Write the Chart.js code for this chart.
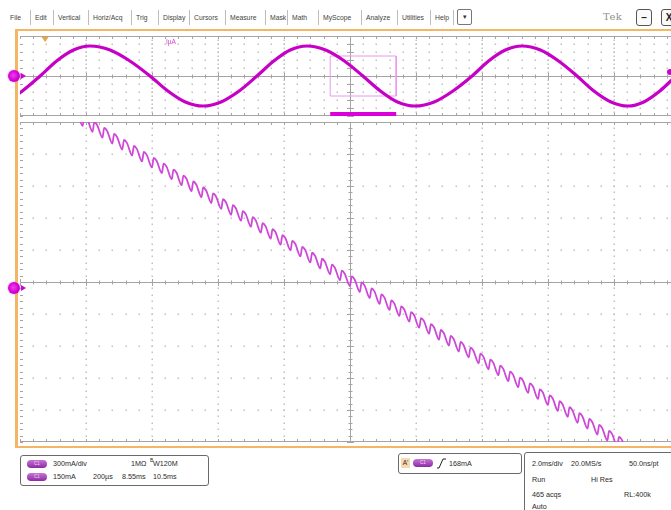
<!DOCTYPE html>
<html>
<head>
<meta charset="utf-8">
<script src="https://cdn.jsdelivr.net/npm/chart.js@4/dist/chart.umd.min.js"></script>
<style>
  html, body { margin: 0; padding: 0; width: 671px; height: 510px; overflow: hidden; background: #fff; }
  #scope { position: relative; width: 671px; height: 510px; overflow: hidden; font-family: "Liberation Sans", Arial, sans-serif; color: #2a2a2a; }
  .abs { position: absolute; }
  .mi { position: absolute; top: 13px; font-size: 6.8px; color: #444; line-height: 9px; white-space: nowrap; }
  .sep { position: absolute; top: 10px; width: 1px; height: 15px; background: #bdbdbd; }
  .drop { position: absolute; left: 457px; top: 9px; width: 15px; height: 16px; border: 1px solid #777; border-radius: 2px; box-sizing: border-box; text-align: center; font-size: 7px; line-height: 14px; color: #333; }
  .winbtn { position: absolute; top: 9px; width: 16px; height: 17px; border: 1px solid #555; border-radius: 3px; box-sizing: border-box; display: flex; align-items: center; justify-content: center; font-size: 10px; font-weight: bold; color: #222; background: #fafafa; }
  .orange { position: absolute; background: #f4b565; }
  canvas { position: absolute; }
  .marker { position: absolute; width: 12px; height: 12px; border-radius: 50%; background: radial-gradient(circle at 45% 45%, #f040f0 0%, #d000d0 55%, #b000b8 100%); box-shadow: 0 0 2px #f07af0; }
  .arrow { position: absolute; width: 0; height: 0; border-top: 3px solid transparent; border-bottom: 3px solid transparent; border-left: 5px solid #d000d0; }
  .box { position: absolute; border: 1px solid #6a6a6a; border-radius: 3px; background: #fff; box-sizing: border-box; font-size: 7.2px; }
  .box span { position: absolute; white-space: nowrap; }
  .pill { position: absolute; width: 20px; height: 8px; border-radius: 4px; background: linear-gradient(#c774d6, #8d2aa3); color: #f3d8f6; font-size: 4.5px; line-height: 8px; text-align: center; }
</style>
</head>
<body>
<div id="scope">
  <span class="mi" style="left:10px;">File</span>
  <div class="sep" style="left:30px;"></div><span class="mi" style="left:35px;">Edit</span>
  <div class="sep" style="left:53px;"></div><span class="mi" style="left:58px;">Vertical</span>
  <div class="sep" style="left:88px;"></div><span class="mi" style="left:93px;">Horiz/Acq</span>
  <div class="sep" style="left:131px;"></div><span class="mi" style="left:136px;">Trig</span>
  <div class="sep" style="left:158px;"></div><span class="mi" style="left:163px;">Display</span>
  <div class="sep" style="left:189px;"></div><span class="mi" style="left:194px;">Cursors</span>
  <div class="sep" style="left:225px;"></div><span class="mi" style="left:230px;">Measure</span>
  <div class="sep" style="left:265px;"></div><span class="mi" style="left:270px;">Mask</span>
  <div class="sep" style="left:287px;"></div><span class="mi" style="left:292px;">Math</span>
  <div class="sep" style="left:318px;"></div><span class="mi" style="left:323px;">MyScope</span>
  <div class="sep" style="left:361px;"></div><span class="mi" style="left:366px;">Analyze</span>
  <div class="sep" style="left:397px;"></div><span class="mi" style="left:402px;">Utilities</span>
  <div class="sep" style="left:430px;"></div><span class="mi" style="left:435px;">Help</span>
  <div class="sep" style="left:453px;"></div>
  <div class="drop">&#9662;</div>
  <div class="abs" style="left:603px;top:11px;font-size:10px;color:#8f8f8f;font-family:'DejaVu Serif',serif;letter-spacing:0.5px;">Tek</div>
  <div class="winbtn" style="left:636px;">&ndash;</div>
  <div class="winbtn" style="left:661px;">X</div>

  <canvas id="overview" width="664" height="84" style="left:18px;top:34px;width:664px;height:84px;"></canvas>
  <canvas id="zoomed" width="664" height="324" style="left:18px;top:120px;width:664px;height:324px;"></canvas>

  <div class="orange" style="left:15px;top:29px;width:660px;height:2px;"></div>
  <div class="orange" style="left:15px;top:29px;width:3px;height:419px;"></div>
  <div class="orange" style="left:15px;top:446px;width:660px;height:2px;"></div>

  <div class="abs" style="left:166px;top:38px;font-size:6.5px;color:#d040d0;">IµA</div>

  <div class="marker" style="left:8px;top:70px;"></div>
  <div class="arrow" style="left:21px;top:73px;"></div>
  <div class="marker" style="left:8px;top:282px;"></div>
  <div class="arrow" style="left:21px;top:285px;"></div>
  <div class="abs" style="left:667px;top:69px;width:6px;height:6px;border-radius:50%;background:#d000d0;"></div>

  <div class="box" style="left:20px;top:455px;width:189px;height:31px;">
    <div class="pill" style="left:6px;top:4px;">C1</div>
    <span style="left:32px;top:3px;">300mA/div</span>
    <span style="left:110px;top:3px;">1MΩ</span>
    <span style="left:129px;top:1px;font-size:5px;">B</span>
    <span style="left:132px;top:3px;">W120M</span>
    <div class="pill" style="left:6px;top:17px;">C1</div>
    <span style="left:32px;top:16px;">150mA</span>
    <span style="left:72px;top:16px;">200µs</span>
    <span style="left:101px;top:16px;">8.55ms</span>
    <span style="left:132px;top:16px;">10.5ms</span>
  </div>

  <div class="box" style="left:398px;top:453px;width:124px;height:21px;">
    <span style="left:2px;top:4px;width:9px;height:10px;background:#f6d9b0;font-size:6.5px;text-align:center;line-height:10px;">A'</span>
    <div class="pill" style="left:14px;top:5px;">C1</div>
    <svg class="abs" style="left:38px;top:4px;" width="9" height="11" viewBox="0 0 9 11"><polyline points="0,10 2,10 6,1 9,1" fill="none" stroke="#222" stroke-width="1"/></svg>
    <span style="left:50px;top:5px;">168mA</span>
  </div>

  <div class="box" style="left:524px;top:452px;width:160px;height:70px;">
    <span style="left:7px;top:6px;">2.0ms/div</span>
    <span style="left:46px;top:6px;">20.0MS/s</span>
    <span style="left:104px;top:6px;">50.0ns/pt</span>
    <span style="left:7px;top:22px;">Run</span>
    <span style="left:66px;top:22px;">Hi Res</span>
    <span style="left:7px;top:37px;">465 acqs</span>
    <span style="left:99px;top:37px;">RL:400k</span>
    <span style="left:7px;top:49px;">Auto</span>
  </div>
</div>

<script>
// Channel 1 over the full record: time in ms, current in mA
const sineTimeMs = [-1.00, -0.46, 0.07, 0.61, 1.11, 1.62, 2.12, 2.73, 3.33, 3.94, 4.48, 5.01, 5.55, 6.09,
  6.64, 7.18, 7.69, 8.19, 8.70, 9.26, 9.83, 10.39, 10.92, 11.44, 11.97, 12.55, 13.12, 13.70, 14.20, 14.71,
  15.21, 15.77, 16.32, 16.88, 17.39, 17.91, 18.42, 18.90, 19.39, 19.88, 20.40, 20.90];
const sineCurrentMa = [-1125, -974, -562, 0, 562, 974, 1125, 974, 562, 0, -562, -974,
  -1125, -974, -562, 0, 562, 974, 1125, 974, 562, 0, -562, -974,
  -1125, -974, -562, 0, 562, 974, 1125, 974, 562, 0, -562, -974,
  -1125, -974, -562, 0, 562, 974];

// Zoom window: switching ripple riding on the falling edge (time in µs from zoom centre, current in mA).
// Each tooth: low point, quick rise to the peak, a short shoulder, then the steep fall to the next low.
const toothStartUs = [-840, -810, -780, -750, -720, -690, -660, -630, -600, -570, -540, -510, -480, -450, -420,
  -390, -360, -330, -300, -270, -240, -210, -180, -150, -120, -90, -60, -30, 0, 30, 60, 90, 120, 150, 180, 210,
  240, 270, 300, 330, 360, 390, 420, 450, 480, 510, 540, 570, 600, 630, 660, 690, 720, 750, 780, 810, 840, 870];
const toothLowMa = [760, 732, 704, 677, 649, 621, 593, 565, 537, 510, 482, 454, 426, 398, 370, 343, 315, 287,
  259, 231, 203, 175, 148, 120, 92, 64, 36, 8, -19, -47, -75, -103, -131, -159, -186, -214, -242, -270, -298,
  -326, -353, -381, -409, -437, -465, -493, -520, -548, -576, -604, -632, -660, -687, -715, -743, -771, -799, -827];
const toothPeakUs = [-835, -805, -775, -745, -715, -685, -655, -625, -595, -565, -535, -505, -475, -445, -415,
  -385, -355, -325, -295, -265, -235, -205, -175, -145, -115, -85, -55, -25, 5, 35, 65, 95, 125, 155, 185, 215,
  245, 275, 305, 335, 365, 395, 425, 455, 485, 515, 545, 575, 605, 635, 665, 695, 725, 755, 785, 815, 845, 875];
const toothHighMa = [805, 777, 749, 722, 694, 666, 638, 610, 582, 555, 527, 499, 471, 443, 415, 388, 360, 332,
  304, 276, 248, 220, 193, 165, 137, 109, 81, 53, 26, -2, -30, -58, -86, -114, -141, -169, -197, -225, -253,
  -281, -308, -336, -364, -392, -420, -448, -475, -503, -531, -559, -587, -615, -642, -670, -698, -726, -754, -782];
const toothShoulderUs = [-826, -796, -766, -736, -706, -676, -646, -616, -586, -556, -526, -496, -466, -436, -406,
  -376, -346, -316, -286, -256, -226, -196, -166, -136, -106, -76, -46, -16, 14, 44, 74, 104, 134, 164, 194, 224,
  254, 284, 314, 344, 374, 404, 434, 464, 494, 524, 554, 584, 614, 644, 674, 704, 734, 764, 794, 824, 854, 884];
const toothShoulderMa = [791, 763, 735, 708, 680, 652, 624, 596, 568, 541, 513, 485, 457, 429, 401, 374, 346, 318,
  290, 262, 234, 206, 179, 151, 123, 95, 67, 39, 12, -16, -44, -72, -100, -128, -155, -183, -211, -239, -267,
  -295, -322, -350, -378, -406, -434, -462, -489, -517, -545, -573, -601, -629, -656, -684, -712, -740, -768, -796];

// Horizontal / vertical settings
const overviewSpanMs = [0, 20];          // 10 div x 2.0 ms
const overviewSpanMa = [-1500, 1500];    // 10 div x 300 mA
const zoomSpanUs = [-1000, 1000];        // 10 div x 200 µs
const zoomSpanMa = [-750, 750];          // 10 div x 150 mA
const zoomWindowMs = [9.4, 11.4];
const zoomBarMa = -1425;
const triggerTimeMs = 0.76;

const sinePoints = sineTimeMs.map((t, i) => ({ x: t, y: sineCurrentMa[i] }));
const ripplePoints = [];
toothStartUs.forEach((t, i) => {
  ripplePoints.push({ x: t, y: toothLowMa[i] });
  ripplePoints.push({ x: toothPeakUs[i], y: toothHighMa[i] });
  ripplePoints.push({ x: toothShoulderUs[i], y: toothShoulderMa[i] });
});
const zoomBoxPoints = [
  { x: zoomWindowMs[0], y: zoomSpanMa[1] }, { x: zoomWindowMs[1], y: zoomSpanMa[1] },
  { x: zoomWindowMs[1], y: zoomSpanMa[0] }, { x: zoomWindowMs[0], y: zoomSpanMa[0] },
  { x: zoomWindowMs[0], y: zoomSpanMa[1] }
];
const zoomBarPoints = [{ x: zoomWindowMs[0], y: zoomBarMa }, { x: zoomWindowMs[1], y: zoomBarMa }];

// Oscilloscope graticule: dotted divisions, centre cross with minor ticks, edge ticks
const graticule = {
  id: 'graticule',
  beforeDatasetsDraw(chart, args, o) {
    const { ctx, chartArea: a } = chart;
    const divW = (a.right - a.left) / 10, divH = (a.bottom - a.top) / 10;
    const minW = divW / 5, minH = divH / 5;
    const cx = Math.round(a.left + 5 * divW) + 0.5, cy = Math.round(a.top + 5 * divH) + 0.5;
    const stepY = o.vDotStep || minH;
    const tickStepY = o.vTickStep || minH;
    ctx.save();
    ctx.fillStyle = '#c2c2c2';
    for (let i = 1; i < 10; i++) {
      if (i === 5) continue;
      const x = Math.round(a.left + i * divW);
      for (let y = a.top + stepY; y < a.bottom - 1; y += stepY) ctx.fillRect(x - 0.5, Math.round(y) - 0.5, 1.5, 1.5);
      const y = Math.round(a.top + i * divH);
      for (let x2 = a.left + minW; x2 < a.right; x2 += minW) ctx.fillRect(Math.round(x2) - 0.5, y - 0.5, 1.5, 1.5);
    }
    ctx.strokeStyle = '#a4a4a4';
    ctx.lineWidth = 1;
    ctx.beginPath();
    ctx.moveTo(a.left, cy); ctx.lineTo(a.right, cy);
    ctx.moveTo(cx, a.top); ctx.lineTo(cx, a.bottom);
    ctx.moveTo(a.left, a.top + 0.5); ctx.lineTo(a.right, a.top + 0.5);
    ctx.moveTo(a.left, a.bottom - 0.5); ctx.lineTo(a.right, a.bottom - 0.5);
    // ticks along centre horizontal line and top/bottom edges
    for (let k = 0; k <= 50; k++) {
      const x = Math.round(a.left + k * minW) + 0.5;
      const len = k % 5 === 0 ? 3.5 : 2;
      ctx.moveTo(x, cy - len); ctx.lineTo(x, cy + len);
      ctx.moveTo(x, a.top); ctx.lineTo(x, a.top + 3);
      ctx.moveTo(x, a.bottom); ctx.lineTo(x, a.bottom - 3);
    }
    // ticks along centre vertical line and left edge
    for (let y = a.top; y <= a.bottom + 0.1; y += tickStepY) {
      const yy = Math.round(y) + 0.5;
      const major = Math.abs(((y - a.top) / divH) - Math.round((y - a.top) / divH)) < 0.01;
      const len = major ? 3.5 : 2;
      ctx.moveTo(cx - len, yy); ctx.lineTo(cx + len, yy);
      ctx.moveTo(a.left, yy); ctx.lineTo(a.left + 3, yy);
    }
    ctx.stroke();
    ctx.restore();
  },
  afterDatasetsDraw(chart, args, o) {
    if (o.triggerAt === undefined) return;
    const { ctx, chartArea: a, scales } = chart;
    const x = scales.x.getPixelForValue(o.triggerAt);
    ctx.save();
    ctx.fillStyle = '#f0a23c';
    ctx.beginPath();
    ctx.moveTo(x - 3.5, a.top + 1); ctx.lineTo(x + 3.5, a.top + 1); ctx.lineTo(x, a.top + 6);
    ctx.closePath(); ctx.fill();
    ctx.restore();
  }
};

const baseOptions = (xr, yr, grat) => ({
  responsive: false,
  animation: false,
  layout: { padding: 2 },
  plugins: { legend: { display: false }, tooltip: { enabled: false }, graticule: grat },
  scales: {
    x: { type: 'linear', min: xr[0], max: xr[1], display: false },
    y: { type: 'linear', min: yr[0], max: yr[1], display: false }
  }
});

new Chart(document.getElementById('overview'), {
  type: 'line',
  data: {
    datasets: [
      { data: sinePoints, borderColor: 'rgb(198,0,198)', borderWidth: 3.2, pointRadius: 0, cubicInterpolationMode: 'monotone' },
      { data: zoomBoxPoints, borderColor: 'rgb(236,150,236)', borderWidth: 1, pointRadius: 0, tension: 0 },
      { data: zoomBarPoints, borderColor: 'rgb(218,0,218)', borderWidth: 4, pointRadius: 0, tension: 0 }
    ]
  },
  options: baseOptions(overviewSpanMs, overviewSpanMa, { vDotStep: 4, vTickStep: 8, triggerAt: triggerTimeMs }),
  plugins: [graticule]
});

new Chart(document.getElementById('zoomed'), {
  type: 'line',
  data: {
    datasets: [
      { data: ripplePoints, borderColor: 'rgb(206,72,216)', borderWidth: 1.8, pointRadius: 0, cubicInterpolationMode: 'monotone' }
    ]
  },
  options: baseOptions(zoomSpanUs, zoomSpanMa, {}),
  plugins: [graticule]
});
</script>
</body>
</html>
